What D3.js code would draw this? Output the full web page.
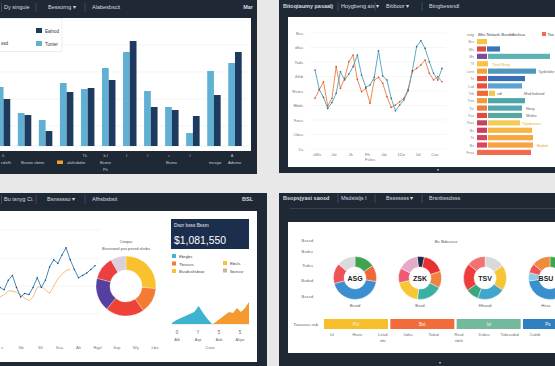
<!DOCTYPE html>
<html><head><meta charset="utf-8">
<script src="https://cdn.jsdelivr.net/npm/d3@7"></script>
<style>
body{margin:0;background:#e8e8e8;}
svg{display:block;font-family:"Liberation Sans",Arial,sans-serif;}
</style></head>
<body><svg id="c" width="555" height="366"></svg>
<script>
// ---------- DATA ----------
const barCats = ["Jan","Feb","Mar","Apr","May","Jun","Jul","Aug","Sep","Oct","Nov","Dec"];
const barLight = [59,33,26,63,57,78,94,55,39,13,75,83];
const barDark  = [47,31,15,54,58,66,105,39,36,30,51,94];
const barGrid = [20,47,74,101];
const barTickLabels = ["0","","","","Tk","b.l","l","l","r","l","","A"];
const barLegend = ["Ealnod","Tunter"];

const lineTeal   = [545,412,356,280,320,384,533,476,517,568,648,510,425,441,494,678,503,476,350,264,303,338,402,540,706,747,694,602,522,476,556];
const lineOrange = [350,407,464,297,350,568,418,487,602,648,480,395,418,315,476,494,453,361,287,303,326,350,412,533,556,579,614,522,476,499,464];
const lineYTicks = ["1s","Cbss","Fass","Bbds","Rstes","4thb","Tsds","dfas","Bss"];
const lineXTicks = ["sWs","Jzl","Jk","Ffr","JzL","1Dz","Jzl","Cos"];

const hbarLabels = ["Bru","Ws","Ms","Tf","Lern","Ts","Lsd","Tsb","Tiss","Tsr","Vss","Tses","Bs","Ts","Bs","Fsss"];
const hbarSeg1 = [10,9,10,11,10,10,10,11,10,10,10,10,10,10,10,54];
const hbarSeg2 = [0,13,62,0,48,37,34,6,37,34,34,32,44,45,45,0];
const hbarColor1 = ["#f6c445","#e24b3b","#7b4a9c","#f6c445","#f4a236","#e4483a","#e8503c","#ee6a38","#f29a38","#ef7a3a","#e04a40","#c6425e","#cc3f5c","#d2445a","#d8475a","#f06a50"];
const hbarColor2 = ["#ffffff","#3b72b8","#5cb2b4","#ffffff","#4f97bf","#3c70b6","#5da1d0","#f3c64a","#4ea6aa","#52a8ae","#5aa8a0","#f3cc55","#f6b544","#f6a642","#f6a442","#ffffff"];

const blBlue   = [48,46,54,58,48,40,43,42,48,56,48,54,65,71,68,75,81,71,63,56,58,60,63,66];
const blOrange = [40,42,45,45,44,42,39,37,40,48,49,46,43,49,55,59,62,63];
const blXTicks = ["s","Sb","Sll","Ssa","Alt","Rgzl","Ssp","Wy","Lbe"];

const donutVals = [95,50,75,65,45,30];
const donutColors = ["#f8c12d","#f47b32","#ef4236","#553fa0","#ea4040","#dacfdc"];

const kpiTitle = "Dsor bsss Bssm";
const kpiValue = "$1,081,550";
const kpiLegend = [["Ebrgbs","#3fb4cf"],["Tbsssrs","#f47b32"],["Bssdsshsbsw","#f8c12d"],["Ebsls","#f2c43c"],["Ibsnssr","#c8b88a"]];
const areaTeal   = [1,4,6,8,10,12,18,11,5,0];
const areaOrange = [0,3,6,9,12,11,16,12,16,22];
const areaTicks  = ["0","Y","5","5"];
const areaNames  = ["Alb","Asp","Asb","Ahpo"];

const ringNames = ["ASG","ZSK","TSV","BSU"];
const ringSub   = ["Bsstd","Bssd","Hlsssd","Hsss"];
const ringVals = [
  [55,45,155,55,50],
  [20,60,45,70,70,40,55],
  [55,70,75,35,75,50],
  [40,50,60,112,23,25,50]
];
const ringColors = [
  ["#3fa34f","#f0683a","#3b8fd0","#ee5356","#d9d9de"],
  ["#1f2a4c","#e83232","#f08342","#3bb0a2","#f6c634","#ef5a70","#e6aac8"],
  ["#d9d9d9","#f5c534","#42a5cc","#3aa87a","#ee3b3b","#f27272"],
  ["#3fa34f","#3bb0a2","#f5c534","#3a8fcf","#8ccbe2","#ee5356","#f08a3c"]
];
const ringRot = [0,-8,0,0];
const rowLabels = ["Bsssd","Bsdss","Tsdss","Bsdsd","Bsssd"];
const stripLabels = ["Pst","Bst","Isl","Ps"];
const stripColors = ["#f6be2b","#f26b3b","#72b99e","#2f80c0"];
const stripSub = [["Isl"],["Hssts"],["Lstsd","sbs"],["Isdss"],["Tsdsd"],["Rssd","sbsh"],["Dsbss"],["Tsbsssdsd"],["Csdsb"]];

// ---------- DRAW ----------
const svg = d3.select("#c");
const DARK = "#1f2935";
const HTXT = "#d5dae0";

function panel(x,y,w,h,wx,wy,ww,wh){
  svg.append("rect").attr("x",x).attr("y",y).attr("width",w).attr("height",h).attr("fill",DARK);
  svg.append("rect").attr("x",wx).attr("y",wy).attr("width",ww).attr("height",wh).attr("fill","#ffffff");
}
function txt(g,x,y,s,opt={}){
  return g.append("text").attr("x",x).attr("y",y).text(s)
    .attr("font-size",opt.size||4.5).attr("fill",opt.fill||"#555")
    .attr("font-weight",opt.bold?"bold":"normal")
    .attr("text-anchor",opt.anchor||"start");
}
function header(y, items, seps){
  seps.forEach(sx=>svg.append("line").attr("x1",sx).attr("x2",sx).attr("y1",y-6).attr("y2",y+3).attr("stroke","#4d5866").attr("stroke-width",0.7));
  items.forEach(it=>txt(svg,it.x,y,it.t,{size:5.5,fill:HTXT,bold:it.b,anchor:it.a}));
}

// Panels
panel(0,0,257,174, 0,18,251,133);
panel(279,0,276,173, 288,17,267,150);
panel(0,193,267,173, 0,211,257,151);
panel(279,193,276,173, 288,222,267,131);
svg.append("line").attr("x1",290).attr("x2",555).attr("y1",208.5).attr("y2",208.5).attr("stroke","#4a5462").attr("stroke-width",0.6);

header(9,[{x:4,t:"Dy singuie"},{x:48,t:"Bessorng  \u25BE"},{x:92,t:"Alabesbscit"},{x:253,t:"Mar",b:true,a:"end"}],[1.5,36,85]);
header(8,[{x:283,t:"Bitoqiaumy pasaalj",b:true},{x:341,t:"Hoygbeng aix \u25BE"},{x:386,t:"Bitiboor  \u25BE"},{x:429,t:"Btngbessndl"}],[338,375,422]);
header(201,[{x:4,t:"Bu tsnyg Ci."},{x:47,t:"Bsnsssso  \u25BE"},{x:92,t:"Afhsbsbsit"},{x:253,t:"BSL",b:true,a:"end"}],[1.5,36,85]);
header(200,[{x:283,t:"Bsopsjyasi saosd",b:true},{x:341,t:"Msdstsljs  l"},{x:386,t:"Bsssssss  \u25BE"},{x:429,t:"Brsnbssdsss"}],[338,375,422]);

// ---- Panel 1: grouped bars ----
{
  const g = svg.append("g");
  const x = d3.scaleBand().domain(barCats).range([-7,245.5]).paddingInner(0.36).paddingOuter(0.18);
  const xs = d3.scaleBand().domain(["light","dark"]).range([0,x.bandwidth()]);
  const y = d3.scaleLinear().domain([0,135]).range([146,11]);
  g.selectAll(".gl").data(barGrid).join("line").attr("x1",0).attr("x2",248)
    .attr("y1",d=>y(d)).attr("y2",d=>y(d)).attr("stroke","#ececec").attr("stroke-width",0.6);
  g.append("line").attr("x1",0).attr("x2",248).attr("y1",y(0)).attr("y2",y(0)).attr("stroke","#e4e4e4").attr("stroke-width",0.6);
  const gg = g.selectAll(".grp").data(barCats).join("g").attr("transform",d=>`translate(${x(d)},0)`);
  gg.append("rect").attr("x",xs("light")).attr("width",xs.bandwidth())
    .attr("y",(d,i)=>y(barLight[i])).attr("height",(d,i)=>y(0)-y(barLight[i])).attr("fill","#60b0d3");
  gg.append("rect").attr("x",xs("dark")).attr("width",xs.bandwidth())
    .attr("y",(d,i)=>y(barDark[i])).attr("height",(d,i)=>y(0)-y(barDark[i])).attr("fill","#1e3a5e");
  // legend box
  g.append("rect").attr("x",-1).attr("y",18.5).attr("width",63).attr("height",33).attr("fill","#fff").attr("stroke","#e2e2e2").attr("stroke-width",0.6);
  g.append("rect").attr("x",36).attr("y",28).attr("width",6).attr("height",5).attr("fill","#1e3a5e");
  g.append("rect").attr("x",36).attr("y",41).attr("width",6).attr("height",5).attr("fill","#60b0d3");
  txt(g,45,32.5,barLegend[0],{fill:"#333"});
  txt(g,45,45.5,barLegend[1],{fill:"#333"});
  txt(g,1,45,"ssd",{fill:"#333"});
  // bottom dark labels
  barCats.forEach((c,i)=>{ if(barTickLabels[i]) txt(g,Math.max(3,x(c)+x.bandwidth()/2-3),157,barTickLabels[i],{fill:"#b8c0c8",size:4,anchor:"middle"}); });
  const bl = [[1,"cdsfh"],[21,"Bsnoo sbme"],[67,"alohsbdor"],[100,"Bsmo"],[166,"Bsmo"],[209,"mcayo"],[228,"Adsmo"]];
  bl.forEach(d=>txt(g,d[0],164,d[1],{fill:"#c5ccd3",size:4.2}));
  g.append("rect").attr("x",57).attr("y",160.5).attr("width",6).attr("height",3.5).attr("fill","#f0a030");
  txt(g,103,171,"Pit",{fill:"#c5ccd3",size:4});
}

// ---- Panel 2: line chart + hbars ----
{
  const g = svg.append("g");
  const x = d3.scaleLinear().domain([0,lineTeal.length-1]).range([315,442]);
  const y = d3.scaleLinear().domain([0,800]).range([149,33]);
  const yt = d3.range(0,801,100);
  g.selectAll(".gl").data(yt).join("line").attr("x1",310).attr("x2",446)
    .attr("y1",d=>y(d)).attr("y2",d=>y(d)).attr("stroke","#f0f0f0").attr("stroke-width",0.6);
  yt.forEach((v,i)=>txt(g,303,y(v)+1.5,lineYTicks[i],{anchor:"end",fill:"#777",size:4.2}));
  const xl = d3.scalePoint().domain(lineXTicks.map((d,i)=>i)).range([317,435]);
  lineXTicks.forEach((t,i)=>txt(g,xl(i),156,t,{anchor:"middle",fill:"#777",size:4.2}));
  txt(g,370,161,"Fsfzs",{anchor:"middle",fill:"#777",size:4.2});
  const ln = d3.line().x((d,i)=>x(i)).y(d=>y(d));
  g.append("path").attr("d",ln(lineOrange)).attr("fill","none").attr("stroke","#ef7b3e").attr("stroke-width",0.9);
  g.append("path").attr("d",ln(lineTeal)).attr("fill","none").attr("stroke","#4aa3c2").attr("stroke-width",0.9);
  g.selectAll(".do").data(lineOrange).join("circle").attr("cx",(d,i)=>x(i)).attr("cy",d=>y(d)).attr("r",0.8).attr("fill","#c0502a");
  g.selectAll(".dt").data(lineTeal).join("circle").attr("cx",(d,i)=>x(i)).attr("cy",d=>y(d)).attr("r",0.8).attr("fill","#2c5f7a");

  // hbars
  const yb = d3.scaleBand().domain(hbarLabels.map((d,i)=>i)).range([39,155]).paddingInner(0.3);
  const xb = d3.scaleLinear().domain([0,80]).range([477,557]);
  txt(g,467,36,"ssty",{fill:"#777",size:4});
  txt(g,478,36,"Bfts Netwrk Bsnddbshsa",{fill:"#444",size:4.3});
  g.append("rect").attr("x",542).attr("y",32).attr("width",4).attr("height",4).attr("fill","#ee6a50");
  txt(g,547.5,36,"Tso",{fill:"#444",size:4});
  hbarLabels.forEach((l,i)=>{
    txt(g,474,yb(i)+yb.bandwidth()-1,l,{anchor:"end",fill:"#888",size:3.6});
    g.append("rect").attr("x",xb(0)).attr("y",yb(i)).attr("width",xb(hbarSeg1[i])-xb(0)).attr("height",yb.bandwidth()).attr("fill",hbarColor1[i]);
    if(hbarSeg2[i]>0) g.append("rect").attr("x",xb(hbarSeg1[i])+1).attr("y",yb(i)).attr("width",xb(hbarSeg2[i])-xb(0)).attr("height",yb.bandwidth()).attr("fill",hbarColor2[i]);
  });
  const bt = [[3,492,"Tsssl Bssg","#e8b030"],[4,538,"Tgsbsldsr","#666"],[7,497,"sdl","#666"],[7,524,"Msd bsbsed","#666"],[9,526,"Nesy","#666"],[10,526,"Wrdss","#666"],[11,522,"Tlgsbsesss","#e8b030"],[14,537,"Bsdsd","#e89a30"]];
  bt.forEach(d=>txt(g,d[1],yb(d[0])+yb.bandwidth()-0.8,d[2],{fill:d[3],size:3.8}));
  g.append("rect").attr("x",437).attr("y",169).attr("width",2).attr("height",1.5).attr("fill","#9aa3ad");
}

// ---- Panel 3: line, donut, KPI, areas ----
{
  const g = svg.append("g");
  const x = d3.scaleLinear().domain([0,blBlue.length-1]).range([0,95]);
  const y = d3.scaleLinear().domain([0,100]).range([345,225]);
  [96,72,49,26].forEach(v=>g.append("line").attr("x1",0).attr("x2",100).attr("y1",y(v)).attr("y2",y(v)).attr("stroke","#efefef").attr("stroke-width",0.6));
  const ln = d3.line().x((d,i)=>x(i)).y(d=>y(d));
  g.append("path").attr("d",ln(blOrange)).attr("fill","none").attr("stroke","#f2aa62").attr("stroke-width",0.8);
  g.append("path").attr("d",ln(blBlue)).attr("fill","none").attr("stroke","#2b7cb9").attr("stroke-width",0.9);
  g.selectAll(".db").data(blBlue).join("circle").attr("cx",(d,i)=>x(i)).attr("cy",d=>y(d)).attr("r",0.75).attr("fill","#1f4a70");
  const xl = d3.scalePoint().domain(blXTicks.map((d,i)=>i)).range([2,155]);
  blXTicks.forEach((t,i)=>txt(g,xl(i),349,t,{anchor:"middle",fill:"#777",size:4.2}));

  // donut
  const arc = d3.arc().innerRadius(16).outerRadius(30);
  const pie = d3.pie().sort(null);
  g.append("g").attr("transform","translate(126,286)").selectAll("path").data(pie(donutVals)).join("path")
    .attr("d",arc).attr("fill",(d,i)=>donutColors[i]).attr("stroke","#fff").attr("stroke-width",0.3);
  txt(g,126,243,"Cinqas",{anchor:"middle",fill:"#555",size:4});
  txt(g,126,249.5,"Bsssrsoof  pss psssd shsbs",{anchor:"middle",fill:"#555",size:4});

  // KPI
  g.append("rect").attr("x",171).attr("y",219).attr("width",78).attr("height",30).attr("fill","#1b2e4d");
  txt(g,174,227,kpiTitle,{fill:"#e6ebf0",size:4.8});
  txt(g,174,243.5,kpiValue,{fill:"#ffffff",size:11.5}).attr("textLength",52).attr("lengthAdjust","spacingAndGlyphs");
  const lp = [[172,258],[172,265.5],[172,273],[223,265],[223,272.5]];
  kpiLegend.forEach((d,i)=>{
    g.append("rect").attr("x",lp[i][0]).attr("y",lp[i][1]-4).attr("width",4).attr("height",4).attr("fill",d[1]);
    txt(g,lp[i][0]+7,lp[i][1],d[0],{fill:"#444",size:4.2});
  });
  // areas
  const xa = d3.scaleLinear().domain([0,9]).range([172,212]);
  const xo = d3.scaleLinear().domain([0,9]).range([213,249]);
  const ya = d3.scaleLinear().domain([0,30]).range([324,294]);
  g.append("path").attr("d",d3.area().x((d,i)=>xa(i)).y0(ya(0)).y1(d=>ya(d))(areaTeal)).attr("fill","#3db3cf");
  g.append("path").attr("d",d3.area().x((d,i)=>xo(i)).y0(ya(0)).y1(d=>ya(d))(areaOrange)).attr("fill","#f49a2e");
  g.append("line").attr("x1",171).attr("x2",250).attr("y1",324.5).attr("y2",324.5).attr("stroke","#dcdcdc").attr("stroke-width",0.5);
  const at = d3.scalePoint().domain(areaTicks.map((d,i)=>i)).range([177,240]);
  areaTicks.forEach((t,i)=>{ txt(g,at(i),334,t,{anchor:"middle",fill:"#666",size:4.5}); txt(g,at(i),341,areaNames[i],{anchor:"middle",fill:"#666",size:3.8}); });
  txt(g,210,349,"Csss",{anchor:"middle",fill:"#666",size:4});
}

// ---- Panel 4: rings ----
{
  const g = svg.append("g");
  const rowY = [242,253,267,282,298];
  rowLabels.forEach((l,i)=>txt(g,313,rowY[i],l,{anchor:"end",fill:"#666",size:4.2}));
  txt(g,446,243,"Bs Bdsssss",{anchor:"middle",fill:"#555",size:4.4});
  const cx = d3.scalePoint().domain(ringNames).range([355,550]);
  const arc = d3.arc().innerRadius(11).outerRadius(21.5);
  ringNames.forEach((n,k)=>{
    const r0 = ringRot[k]*Math.PI/180;
    const pie = d3.pie().sort(null).startAngle(r0).endAngle(r0+2*Math.PI);
    const rg = g.append("g").attr("transform",`translate(${cx(n)},278)`);
    rg.selectAll("path").data(pie(ringVals[k])).join("path").attr("d",arc)
      .attr("fill",(d,i)=>ringColors[k][i]).attr("stroke","#fff").attr("stroke-width",0.4);
    const lx = Math.min(cx(n), 546);
    txt(g,lx,280.5,n,{anchor:"middle",fill:"#222",bold:true,size:7});
    txt(g,Math.min(cx(n),546),307,ringSub[k],{anchor:"middle",fill:"#555",size:4.2});
  });
  txt(g,318,326,"Tsssssss ssb",{anchor:"end",fill:"#555",size:4.2});
  const xs = d3.scaleBand().domain(stripLabels).range([324,587]).paddingInner(0.035);
  stripLabels.forEach((s,i)=>{
    g.append("rect").attr("x",xs(s)).attr("y",319).attr("width",xs.bandwidth()).attr("height",10).attr("fill",stripColors[i]);
    txt(g,Math.min(xs(s)+xs.bandwidth()/2,548),325.5,s,{anchor:"middle",fill:"#fff3e0",size:4.5});
  });
  const ss = d3.scalePoint().domain(stripSub.map((d,i)=>i)).range([332,535]);
  stripSub.forEach((d,i)=>d.forEach((t,j)=>txt(g,ss(i),336+j*6,t,{anchor:"middle",fill:"#666",size:3.9})));
  g.append("rect").attr("x",439).attr("y",362).attr("width",2).attr("height",1.5).attr("fill","#9aa3ad");
}
</script></body></html>
